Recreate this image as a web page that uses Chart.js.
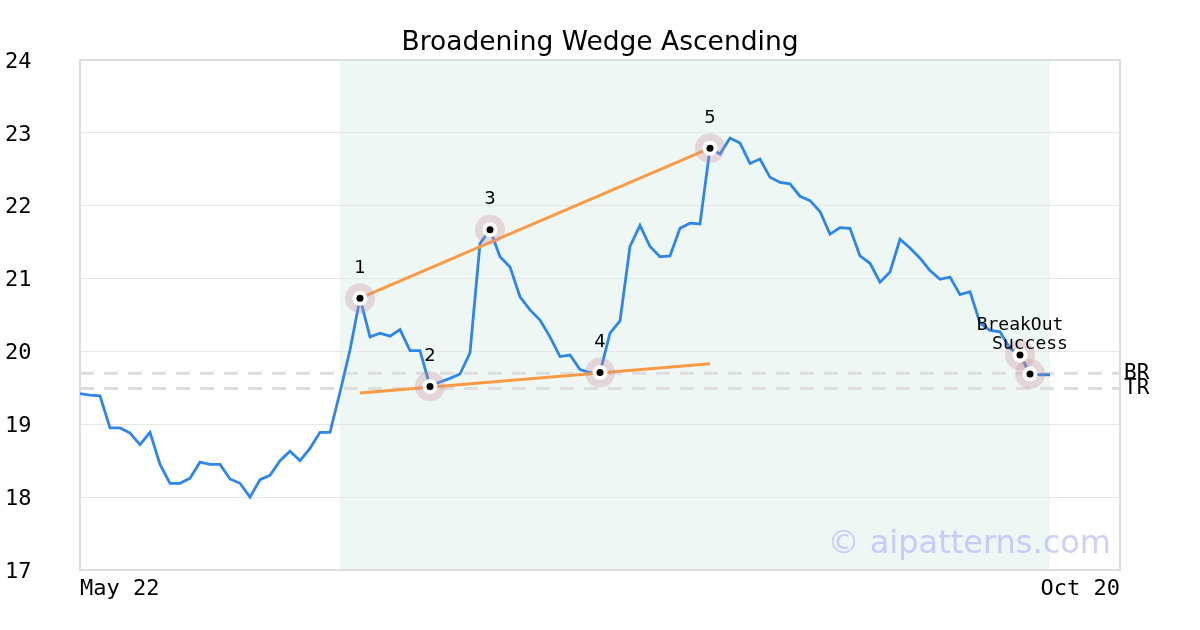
<!DOCTYPE html>
<html>
<head>
<meta charset="utf-8">
<script src="https://cdn.jsdelivr.net/npm/chart.js@4.4.1/dist/chart.umd.min.js"></script>
<style>
  html, body { margin: 0; padding: 0; background: #fff; }
  #wrap { width: 1200px; height: 630px; }
</style>
</head>
<body>
<div id="wrap"><canvas id="c" width="1200" height="630"></canvas></div>
<script>
// ---- data ----
const chartTitle = 'Broadening Wedge Ascending';
const xTickPositions = [0, 104];
const xTickLabels = ['May 22', 'Oct 20'];
const yTicksMin = 17;
const yTicksMax = 24;

const prices = [
  19.42, 19.40, 19.39, 18.95, 18.95, 18.88, 18.72, 18.89, 18.45, 18.19,
  18.19, 18.26, 18.48, 18.45, 18.45, 18.25, 18.19, 18.00, 18.24, 18.30,
  18.50, 18.63, 18.50, 18.67, 18.89, 18.89, 19.44, 20.02, 20.73, 20.20,
  20.25, 20.21, 20.30, 20.01, 20.01, 19.52, 19.58, 19.63, 19.69, 19.98,
  21.48, 21.67, 21.30, 21.16, 20.75, 20.57, 20.43, 20.20, 19.93, 19.95,
  19.75, 19.71, 19.71, 20.25, 20.42, 21.44, 21.73, 21.44, 21.30, 21.31,
  21.69, 21.76, 21.75, 22.79, 22.71, 22.93, 22.86, 22.58, 22.64, 22.39,
  22.32, 22.30, 22.13, 22.07, 21.92, 21.61, 21.70, 21.69, 21.31, 21.21,
  20.95, 21.09, 21.54, 21.42, 21.28, 21.11, 20.99, 21.02, 20.78, 20.82,
  20.39, 20.29, 20.27, 20.04, 19.95, 19.69, 19.68, 19.68
];

const patternIdx = [28, 35, 41, 52, 63];
const patternLabels = ['1', '2', '3', '4', '5'];
const breakIdx = [94, 95];
const breakLabels = ['BreakOut', 'Success'];

const upperLineIdx = [28, 63];
const upperLineVal = [20.73, 22.79];
const lowerLineIdx = [28, 63];
const lowerLineVal = [19.43, 19.83];

const levelNames = ['BR', 'TR'];
const levelValues = [19.70, 19.49];

const shadeRange = [26, 97];
const watermark = '\u00A9 aipatterns.com';

// ---- build ----
const pricePts = prices.map((v, i) => ({ x: i, y: v }));
const markIdx = patternIdx.concat(breakIdx);
const markLabels = patternLabels.concat(breakLabels);
const markPts = markIdx.map(i => ({ x: i, y: prices[i] }));

const datasets = [];
datasets.push({ type: 'scatter', data: markPts, pointRadius: 3.5, pointBackgroundColor: '#000', pointBorderWidth: 0, order: 0 });
datasets.push({ type: 'scatter', data: markPts, pointRadius: 7.5, pointBackgroundColor: '#fff', pointBorderWidth: 0, order: 1 });
datasets.push({ type: 'scatter', data: markPts, pointRadius: 15, pointBackgroundColor: 'rgba(200,140,155,0.3)', pointBorderWidth: 0, order: 2 });
datasets.push({ type: 'line', data: upperLineIdx.map((x, k) => ({ x, y: upperLineVal[k] })), borderColor: '#fb9a44', borderWidth: 3, pointRadius: 0, order: 3 });
datasets.push({ type: 'line', data: lowerLineIdx.map((x, k) => ({ x, y: lowerLineVal[k] })), borderColor: '#fb9a44', borderWidth: 3, pointRadius: 0, order: 3 });
datasets.push({ type: 'line', data: pricePts, borderColor: '#2e86e6', borderWidth: 2.8, pointRadius: 0, tension: 0, order: 4 });
levelValues.forEach(v => {
  datasets.push({ type: 'line', data: [{ x: xTickPositions[0], y: v }, { x: xTickPositions[1], y: v }], borderColor: '#dedede', borderWidth: 3, borderDash: [14, 10], pointRadius: 0, order: 5 });
});

const decor = {
  id: 'decor',
  beforeDraw(chart) {
    const { ctx, chartArea: a, scales: { x } } = chart;
    ctx.save();
    ctx.fillStyle = '#fff';
    ctx.fillRect(0, 0, chart.width, chart.height);
    const x0 = x.getPixelForValue(shadeRange[0]);
    const x1 = x.getPixelForValue(shadeRange[1]);
    ctx.fillStyle = '#eff7f4';
    ctx.fillRect(x0, a.top, x1 - x0, a.bottom - a.top);
    ctx.restore();
  },
  beforeDatasetsDraw(chart) {
    const { ctx, chartArea: a } = chart;
    ctx.save();
    ctx.strokeStyle = '#dedede';
    ctx.lineWidth = 2;
    ctx.strokeRect(a.left, a.top, a.right - a.left, a.bottom - a.top);
    ctx.restore();
  },
  afterDatasetsDraw(chart) {
    const { ctx, chartArea: a, scales: { x, y } } = chart;
    ctx.save();
    ctx.font = '32px "DejaVu Sans"';
    ctx.fillStyle = 'rgba(160,160,250,0.5)';
    ctx.textAlign = 'right';
    ctx.textBaseline = 'alphabetic';
    ctx.fillText(watermark, a.right - 9, a.bottom - 17);
    ctx.fillStyle = '#000';
    ctx.textAlign = 'center';
    ctx.textBaseline = 'middle';
    markIdx.forEach((i, k) => {
      const px = x.getPixelForValue(i);
      const py = y.getPixelForValue(prices[i]);
      ctx.font = k < patternIdx.length ? '18px "DejaVu Sans"' : '18px "DejaVu Sans Mono"';
      ctx.fillText(markLabels[k], px, py - 30);
    });
    ctx.font = '21px "DejaVu Sans Mono"';
    ctx.textAlign = 'left';
    levelNames.forEach((n, k) => {
      ctx.fillText(n, a.right + 4, y.getPixelForValue(levelValues[k]));
    });
    ctx.restore();
  }
};

new Chart(document.getElementById('c'), {
  type: 'line',
  data: { datasets },
  options: {
    responsive: false,
    animation: false,
    devicePixelRatio: 1,
    layout: { padding: { left: 5, right: 5, top: 0, bottom: 0 } },
    plugins: {
      legend: { display: false },
      tooltip: { enabled: false },
      title: {
        display: true, text: chartTitle, color: '#000',
        font: { family: 'DejaVu Sans', size: 26.5, weight: 'normal' },
        padding: { top: 27, bottom: 1.2 }
      }
    },
    scales: {
      x: {
        type: 'linear', min: xTickPositions[0], max: xTickPositions[1],
        grid: { display: false, drawTicks: false },
        border: { display: false },
        afterBuildTicks: s => { s.ticks = xTickPositions.map(v => ({ value: v })); },
        afterFit: s => { s.height = 60; },
        ticks: {
          align: 'inner', maxRotation: 0, autoSkip: false, padding: 6, color: '#000',
          font: { family: 'DejaVu Sans Mono', size: 22 },
          callback: (v, i) => xTickLabels[i]
        }
      },
      y: {
        min: yTicksMin, max: yTicksMax,
        grid: { color: '#e6e6e6', lineWidth: 1, drawTicks: false },
        border: { display: false },
        afterFit: s => { s.width = 75; },
        ticks: {
          stepSize: 1, crossAlign: 'far', color: '#000', padding: 0, labelOffset: 2,
          font: { family: 'DejaVu Sans Mono', size: 22 }
        }
      },
      yRight: {
        position: 'right', min: yTicksMin, max: yTicksMax,
        grid: { display: false, drawTicks: false },
        border: { display: false },
        ticks: { display: false },
        afterFit: s => { s.width = 75; }
      }
    }
  },
  plugins: [decor]
});
</script>
</body>
</html>
